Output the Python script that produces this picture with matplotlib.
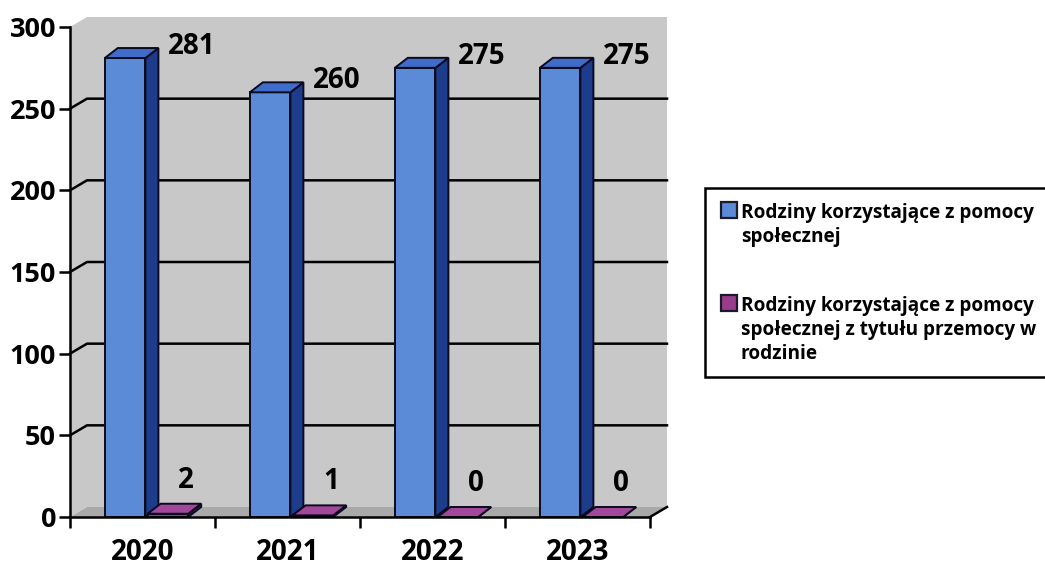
import matplotlib.pyplot as plt
from matplotlib.patches import Polygon, Rectangle

years = ["2020", "2021", "2022", "2023"]
rodziny = [281, 260, 275, 275]
przemoc = [2, 1, 0, 0]
series_names = ["Rodziny korzystające z pomocy\nspołecznej",
                "Rodziny korzystające z pomocy\nspołecznej z tytułu przemocy w\nrodzinie"]
y_ticks = [0, 50, 100, 150, 200, 250, 300]

plt.rcParams['font.family'] = ['Open Sans', 'DejaVu Sans']
plt.rcParams['font.weight'] = 'bold'

W, H = 1045, 566
fig = plt.figure(figsize=(W / 100, H / 100), dpi=100)
ax = fig.add_axes([70 / W, 1 - 517 / H, 580 / W, 490 / H])
ax.set_xlim(0, 4)
ax.set_ylim(0, 300)
ax.patch.set_visible(False)

# depth offsets (data units) for the fake 3D look
wdx, wdy = 17 / 145, 10 * 300 / 490
bdx, bdy = 13 / 145, 10 * 300 / 490
n = len(years)
ymax = y_ticks[-1]

# side + back wall and floor
wall = Polygon([(0, 0), (0, ymax), (wdx, ymax + wdy), (n + wdx, ymax + wdy),
                (n + wdx, wdy), (wdx, wdy)], closed=True,
               facecolor="#c8c8c8", edgecolor="none", clip_on=False, zorder=0)
ax.add_patch(wall)
floor = Polygon([(0, 0), (n, 0), (n + wdx, wdy), (wdx, wdy)], closed=True,
                facecolor="#a9a9a9", edgecolor="none", clip_on=False, zorder=0.5)
ax.add_patch(floor)
ax.plot([n, n + wdx], [0, wdy], color="black", lw=1.8, clip_on=False, zorder=1)

for v in y_ticks[1:-1]:
    ax.plot([0, wdx, n + wdx], [v, v + wdy, v + wdy], color="black", lw=1.8,
            clip_on=False, zorder=1)


def bar3d(x0, w, v, front, side, top):
    x1 = x0 + w
    ax.add_patch(Rectangle((x0, 0), w, v, facecolor=front, edgecolor="#0a0a20",
                           lw=1.4, clip_on=False, zorder=3))
    ax.add_patch(Polygon([(x1, 0), (x1 + bdx, bdy), (x1 + bdx, v + bdy), (x1, v)],
                         closed=True, facecolor=side, edgecolor="#0a0a20", lw=1.4,
                         clip_on=False, zorder=3))
    ax.add_patch(Polygon([(x0, v), (x1, v), (x1 + bdx, v + bdy), (x0 + bdx, v + bdy)],
                         closed=True, facecolor=top, edgecolor="#0a0a20", lw=1.4,
                         clip_on=False, zorder=3))


w = 0.28
for i in range(n):
    bar3d(i + 0.24, w, rodziny[i], "#5b8ad6", "#1e3c8c", "#3f6cc8")
    bar3d(i + 0.535, w, przemoc[i], "#9a3c8c", "#5a1252", "#a2489a")
    ax.text(i + 0.84, rodziny[i] + 7, str(rodziny[i]), ha="center", va="center",
            fontsize=20, fontweight="bold", zorder=5)
    ax.text(i + 0.80, przemoc[i] + 20.5, str(przemoc[i]), ha="center", va="center",
            fontsize=20, fontweight="bold", zorder=5)

for s in ["top", "right"]:
    ax.spines[s].set_visible(False)
for s in ["left", "bottom"]:
    ax.spines[s].set_linewidth(1.8)
    ax.spines[s].set_zorder(4)

ax.set_yticks(y_ticks)
ax.tick_params(axis="y", direction="out", length=8, width=1.8, pad=2, labelsize=19.5)
ax.set_xticks(range(n + 1))
ax.set_xticklabels([])
ax.set_xticks([i + 0.5 for i in range(n)], minor=True)
ax.set_xticklabels(years, minor=True)
ax.tick_params(axis="x", which="major", direction="out", length=8, width=1.8)
ax.tick_params(axis="x", which="minor", length=0, pad=15, labelsize=20)

# legend (drawn by hand, box runs off the right edge like the scan)
colors = ["#5b8ad6", "#9a3c8c"]
fig.patches.append(Rectangle((705 / W, 1 - 377 / H), 360 / W, 189 / H,
                             transform=fig.transFigure, facecolor="white",
                             edgecolor="black", lw=1.8, zorder=1))
first_baseline = [218, 311]
for name, c, by in zip(series_names, colors, first_baseline):
    fig.patches.append(Rectangle((721 / W, 1 - by / H), 16 / W, 16 / H,
                                 transform=fig.transFigure, facecolor=c,
                                 edgecolor="#1a1a2a", lw=1.6, zorder=2))
    for k, line in enumerate(name.split("\n")):
        fig.text(741 / W, 1 - (by + 24 * k) / H, line, ha="left", va="baseline",
                 fontsize=13.7, fontweight="bold", zorder=3)

fig.savefig("out.png", dpi=100)
